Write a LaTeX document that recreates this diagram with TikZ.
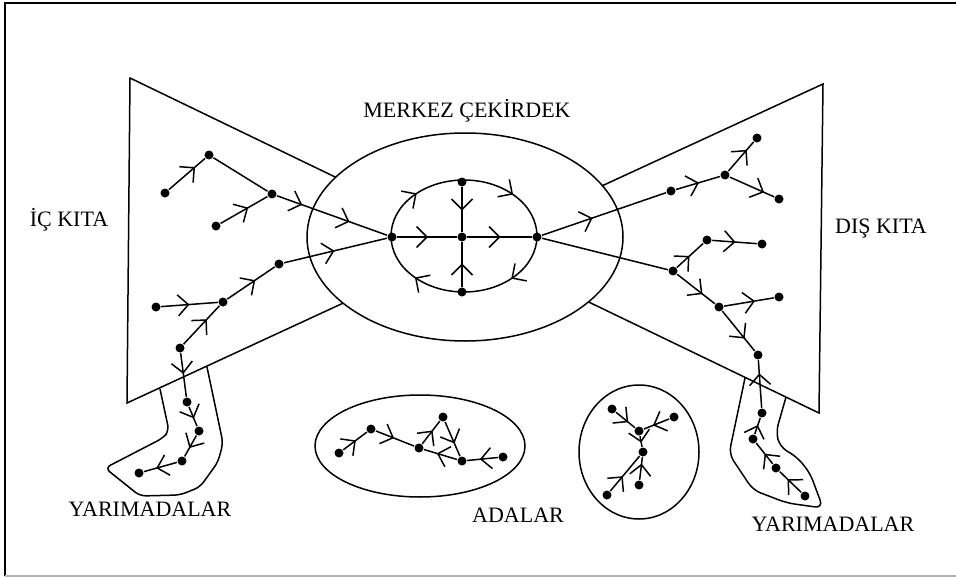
\documentclass[tikz,border=0pt]{standalone}
\usepackage{fontspec}
\setmainfont{Liberation Serif}
\usetikzlibrary{decorations.markings}
\tikzset{
  dotn/.style={circle, fill=black, inner sep=0pt, minimum size=9pt},
  lbl/.style={font=\fontsize{22}{26}\selectfont, inner sep=0pt},
  fl/.style={postaction={decorate, decoration={markings,
     mark=at position #1 with {\draw[line width=1.5pt] (-10.5pt,10.5pt) -- (0,0) -- (-10.5pt,-10.5pt);}}}},
  fl/.default=0.5,
  ring/.style={postaction={decorate, decoration={markings,
     mark=at position 0.125 with {\draw[line width=1.5pt] (-10.5pt,10.5pt) -- (0,0) -- (-10.5pt,-10.5pt);},
     mark=at position 0.375 with {\draw[line width=1.5pt] (-10.5pt,10.5pt) -- (0,0) -- (-10.5pt,-10.5pt);},
     mark=at position 0.625 with {\draw[line width=1.5pt] (-10.5pt,10.5pt) -- (0,0) -- (-10.5pt,-10.5pt);},
     mark=at position 0.875 with {\draw[line width=1.5pt] (-10.5pt,10.5pt) -- (0,0) -- (-10.5pt,-10.5pt);}}}},
}
\begin{document}
\begin{tikzpicture}[x=1pt,y=-1pt,line width=1.5pt]
\useasboundingbox (0,0) rectangle (956,578);
% frame
\draw[line width=1.6pt] (5,576) -- (5,3) -- (956,3);
\draw[gray!60,line width=1.6pt] (5,576) -- (956,576);

% continents (trapezoids)
\draw (130,78) -- (360,189) -- (365,293) -- (127,403) -- cycle;
\draw (823,84) -- (580,196) -- (570,293) -- (819,413) -- cycle;

% peninsulas
\draw[rounded corners=6pt] (160,389) -- (169,431) -- (163,438) -- (105,468)
  -- (140,496) -- (180,495) -- (200,487) -- (218,462) -- (223,443) -- (207,367);
\draw[rounded corners=8pt] (745,378) -- (729,454) -- (753,490) -- (787,503)
  -- (823,508) -- (810,473) -- (797,457) -- (780,447) -- (776,432) -- (786,397);

% core
\draw[fill=white] (465,237) ellipse [x radius=158, y radius=104];
\draw[ring] (464,236) ellipse [x radius=73, y radius=56];

% islands
\draw (420,446) ellipse [x radius=105, y radius=51];
\draw (639,452) ellipse [x radius=60, y radius=67];

% core nodes
\node[dotn] (ML) at (392,237) {};
\node[dotn] (M0) at (462,237) {};
\node[dotn] (MR) at (537,237) {};
\node[dotn] (MT) at (462,182) {};
\node[dotn] (MB) at (462,292) {};
\draw[fl] (ML) -- (M0);
\draw[fl] (M0) -- (MR);
\draw[fl] (MT) -- (M0);
\draw[fl] (MB) -- (M0);

% inner continent (left)
\node[dotn] (A1) at (165,193) {};
\node[dotn] (A2) at (209,155) {};
\node[dotn] (A3) at (272,194) {};
\node[dotn] (A4) at (216,226) {};
\node[dotn] (B1) at (279,264) {};
\node[dotn] (B2) at (223,302) {};
\node[dotn] (B3) at (156,307) {};
\node[dotn] (B4) at (180,348) {};
\draw[fl=0.7] (A1) -- (A2);
\draw (A2) -- (A3);
\draw[fl=0.57] (A4) -- (A3);
\draw[fl=0.22,fl=0.65] (A3) -- (ML);
\draw[fl=0.48] (B1) -- (ML);
\draw[fl=0.57] (B2) -- (B1);
\draw[fl=0.48] (B3) -- (B2);
\draw[fl=0.63] (B4) -- (B2);

% left peninsula
\node[dotn] (P1) at (187,402) {};
\node[dotn] (P2) at (199,431) {};
\node[dotn] (P3) at (182,461) {};
\node[dotn] (P4) at (139,473) {};
\draw[fl=0.45] (B4) -- (P1);
\draw[fl=0.55] (P1) -- (P2);
\draw[fl=0.55] (P2) -- (P3);
\draw[fl=0.6] (P3) -- (P4);

% outer continent (right)
\node[dotn] (C1) at (671,191) {};
\node[dotn] (C2) at (725,175) {};
\node[dotn] (C3) at (757,138) {};
\node[dotn] (C4) at (779,199) {};
\node[dotn] (D1) at (673,271) {};
\node[dotn] (D2) at (707,240) {};
\node[dotn] (D3) at (762,244) {};
\node[dotn] (D4) at (719,307) {};
\node[dotn] (D5) at (779,297) {};
\node[dotn] (D6) at (758,355) {};
\draw[fl=0.4] (MR) -- (C1);
\draw[fl=0.5] (C1) -- (C2);
\draw[fl=0.7] (C2) -- (C3);
\draw[fl=0.75] (C2) -- (C4);
\draw (MR) -- (D1);
\draw[fl=0.45] (D1) -- (D2);
\draw[fl=0.5] (D2) -- (D3);
\draw[fl=0.65] (D1) -- (D4);
\draw[fl=0.6] (D4) -- (D5);
\draw[fl=0.67] (D4) -- (D6);

% right peninsula
\node[dotn] (R1) at (762,413) {};
\node[dotn] (R2) at (753,439) {};
\node[dotn] (R3) at (776,468) {};
\node[dotn] (R4) at (805,496) {};
\draw[fl=0.7] (R1) -- (D6);
\draw[fl=0.5] (R2) -- (R1);
\draw[fl=0.45] (R3) -- (R2);
\draw[fl=0.6] (R4) -- (R3);

% island 1
\node[dotn] (E1) at (339,453) {};
\node[dotn] (E2) at (371,429) {};
\node[dotn] (E3) at (419,448) {};
\node[dotn] (E4) at (443,417) {};
\node[dotn] (E5) at (462,461) {};
\node[dotn] (E6) at (503,457) {};
\draw[fl=0.5] (E1) -- (E2);
\draw[fl=0.45] (E2) -- (E3);
\draw[fl=0.55] (E3) -- (E4);
\draw[fl=0.6] (E4) -- (E5);
\draw[fl=0.58] (E5) -- (E3);
\draw[fl=0.55] (E6) -- (E5);

% island 2
\node[dotn] (F1) at (612,409) {};
\node[dotn] (F2) at (674,417) {};
\node[dotn] (F3) at (639,431) {};
\node[dotn] (F4) at (643,452) {};
\node[dotn] (F5) at (639,485) {};
\node[dotn] (F6) at (607,495) {};
\draw[fl=0.6] (F1) -- (F3);
\draw[fl=0.6] (F2) -- (F3);
\draw[fl=0.5] (F3) -- (F4);
\draw[fl=0.67] (F5) -- (F4);
\draw[fl=0.4] (F6) -- (F4);

% labels
\node[lbl] (tcore) at (467,111) {MERKEZ ÇEKİRDEK};
\node[lbl] (tin) at (69,220) {İÇ KITA};
\node[lbl] (tout) at (881,229) {DIŞ KITA};
\node[lbl] (tpl) at (150,509) {YARIMADALAR};
\node[lbl] (tisl) at (518,515) {ADALAR};
\node[lbl] (tpr) at (833,524) {YARIMADALAR};
\end{tikzpicture}
\end{document}
